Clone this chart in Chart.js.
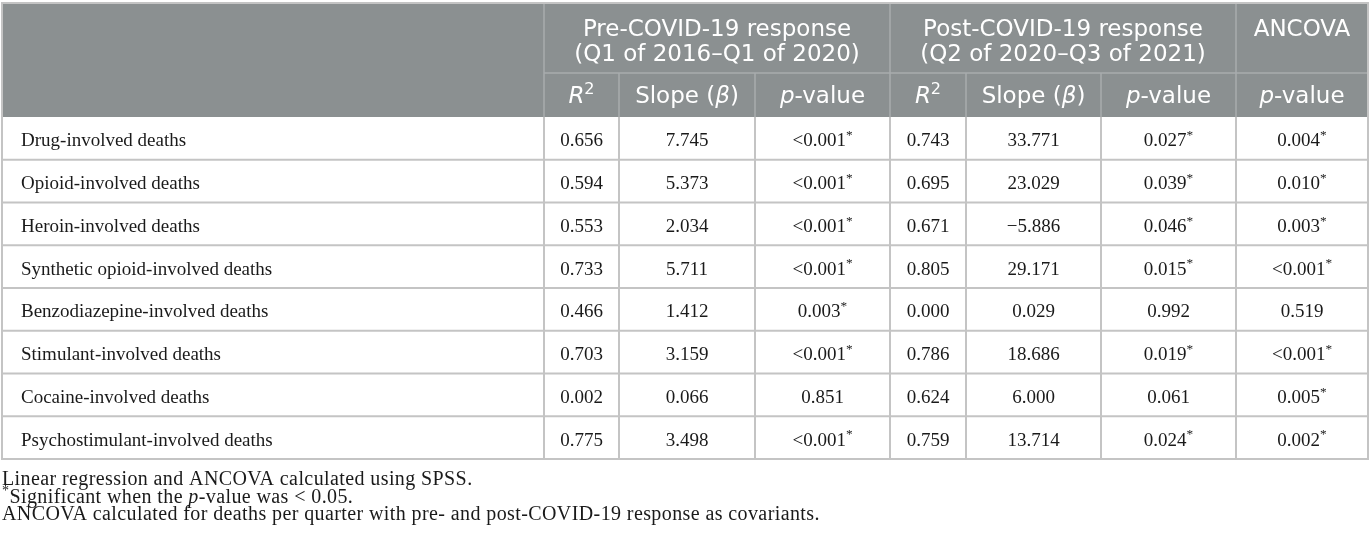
<!DOCTYPE html>
<html><head><meta charset="utf-8">
<script src="https://cdn.jsdelivr.net/npm/chart.js@4.4.1/dist/chart.umd.min.js"></script>
<style>html,body{margin:0;padding:0;background:#fff}#wrap{width:1372px;height:540px;position:relative}</style>
</head><body><div id="wrap"><canvas id="c"></canvas></div>
<script>
// ---------- DATA ----------
const rowLabels = ['Drug-involved deaths','Opioid-involved deaths','Heroin-involved deaths','Synthetic opioid-involved deaths','Benzodiazepine-involved deaths','Stimulant-involved deaths','Cocaine-involved deaths','Psychostimulant-involved deaths'];
const preR2    = ['0.656','0.594','0.553','0.733','0.466','0.703','0.002','0.775'];
const preSlope = ['7.745','5.373','2.034','5.711','1.412','3.159','0.066','3.498'];
const preP     = ['<0.001*','<0.001*','<0.001*','<0.001*','0.003*','<0.001*','0.851','<0.001*'];
const postR2   = ['0.743','0.695','0.671','0.805','0.000','0.786','0.624','0.759'];
const postSlope= ['33.771','23.029','\u22125.886','29.171','0.029','18.686','6.000','13.714'];
const postP    = ['0.027*','0.039*','0.046*','0.015*','0.992','0.019*','0.061','0.024*'];
const ancovaP  = ['0.004*','0.010*','0.003*','<0.001*','0.519','<0.001*','0.005*','0.002*'];
const groupTitles = [['Pre-COVID-19 response','(Q1 of 2016\u2013Q1 of 2020)'],['Post-COVID-19 response','(Q2 of 2020\u2013Q3 of 2021)'],['ANCOVA']];
const subHeaders = [
  [{t:'R',i:1},{t:'2',s:1}], [{t:'Slope ('},{t:'\u03b2',i:1},{t:')'}], [{t:'p',i:1},{t:'-value'}],
  [{t:'R',i:1},{t:'2',s:1}], [{t:'Slope ('},{t:'\u03b2',i:1},{t:')'}], [{t:'p',i:1},{t:'-value'}],
  [{t:'p',i:1},{t:'-value'}]
];
const footnotes = [
  [{t:'Linear regression and ANCOVA calculated using SPSS.'}],
  [{t:'*',s:1},{t:'Significant when the '},{t:'p',i:1},{t:'-value was < 0.05.'}],
  [{t:'ANCOVA calculated for deaths per quarter with pre- and post-COVID-19 response as covariants.'}]
];
const columns = [preR2, preSlope, preP, postR2, postSlope, postP, ancovaP];

// ---------- LAYOUT ----------
const colEdges = [2,544,619,755,890,966,1101,1236,1368];
const groupSpans = [[1,4],[4,7],[7,8]];
const TOP = 3, MID = 73, HEAD = 117, ROWH = 42.75;
const BOTTOM = HEAD + ROWH*rowLabels.length;
const headBg = '#8b9091', headLine = '#a9adae', gridLine = '#c4c4c4';
const sansF = '"DejaVu Sans"', serifF = '"Liberation Serif"';

function drawRuns(ctx, runs, x, base, size, fam, color, align, spacing){
  ctx.letterSpacing = (spacing || 0) + 'px';
  const fnt = r => (r.i?'italic ':'') + (r.s? size*0.7 : size) + 'px ' + fam;
  let total = 0;
  runs.forEach(r => { ctx.font = fnt(r); r.w = ctx.measureText(r.t).width; total += r.w; });
  let cx = align==='center' ? x - total/2 : x;
  ctx.fillStyle = color; ctx.textAlign = 'left'; ctx.textBaseline = 'alphabetic';
  runs.forEach(r => { ctx.font = fnt(r); ctx.fillText(r.t, cx, base - (r.s? size*0.38 : 0)); cx += r.w; });
  ctx.letterSpacing = '0px';
}
function cellRuns(str){
  if (str.endsWith('*')) return [{t:str.slice(0,-1)},{t:'*',s:1}];
  return [{t:str}];
}

const tablePlugin = {
  id:'table',
  afterDraw(chart){
    const ctx = chart.ctx, xs = chart.scales.x, ys = chart.scales.y;
    const X = v => xs.getPixelForValue(v), Y = v => ys.getPixelForValue(v);
    ctx.save();
    ctx.fillStyle = headBg;
    ctx.fillRect(X(colEdges[0]), Y(TOP), X(colEdges[8])-X(colEdges[0]), Y(HEAD)-Y(TOP));
    ctx.strokeStyle = headLine; ctx.lineWidth = 1.5;
    const line = (x1,y1,x2,y2) => { ctx.beginPath(); ctx.moveTo(X(x1),Y(y1)); ctx.lineTo(X(x2),Y(y2)); ctx.stroke(); };
    [1,4,7].forEach(i => line(colEdges[i],TOP,colEdges[i],HEAD));
    [2,3,5,6].forEach(i => line(colEdges[i],MID,colEdges[i],HEAD));
    line(colEdges[1],MID,colEdges[8],MID);
    ctx.strokeStyle = gridLine; ctx.lineWidth = 2;
    for (let k=1;k<rowLabels.length;k++) line(colEdges[0],HEAD+k*ROWH,colEdges[8],HEAD+k*ROWH);
    colEdges.forEach(c => line(c,HEAD,c,BOTTOM));
    ctx.strokeRect(X(colEdges[0]),Y(TOP),X(colEdges[8])-X(colEdges[0]),Y(BOTTOM)-Y(TOP));
    const hs = 23;
    groupTitles.forEach((lines,g) => {
      const [a,b] = groupSpans[g];
      const cx = (colEdges[a]+colEdges[b])/2;
      lines.forEach((l,j) => drawRuns(ctx,[{t:l}],X(cx),Y(36+j*25),hs,sansF,'#ffffff','center'));
    });
    subHeaders.forEach((runs,i) => {
      const cx = (colEdges[i+1]+colEdges[i+2])/2;
      drawRuns(ctx,runs,X(cx),Y(103),hs,sansF,'#ffffff','center');
    });
    const bs = 19;
    rowLabels.forEach((lab,r) => {
      const cy = HEAD + (r+0.5)*ROWH;
      drawRuns(ctx,[{t:lab}],X(21),Y(cy+8),bs,serifF,'#1a1a1a','left');
      columns.forEach((col,i) => {
        const cx = (colEdges[i+1]+colEdges[i+2])/2;
        drawRuns(ctx,cellRuns(col[r]),X(cx),Y(cy+8),bs,serifF,'#1a1a1a','center');
      });
    });
    footnotes.forEach((runs,j) => drawRuns(ctx,runs,X(2),Y(485+j*17.5),20,serifF,'#1a1a1a','left',0.4));
    ctx.restore();
  }
};

new Chart(document.getElementById('c'), {
  type:'scatter',
  data:{datasets:[{data:[]}]},
  options:{
    responsive:true, maintainAspectRatio:false, animation:false, events:[],
    layout:{padding:0},
    plugins:{legend:{display:false}, tooltip:{enabled:false}},
    scales:{
      x:{type:'linear',min:0,max:1372,display:false},
      y:{type:'linear',min:0,max:540,reverse:true,display:false}
    }
  },
  plugins:[tablePlugin]
});
</script></body></html>
